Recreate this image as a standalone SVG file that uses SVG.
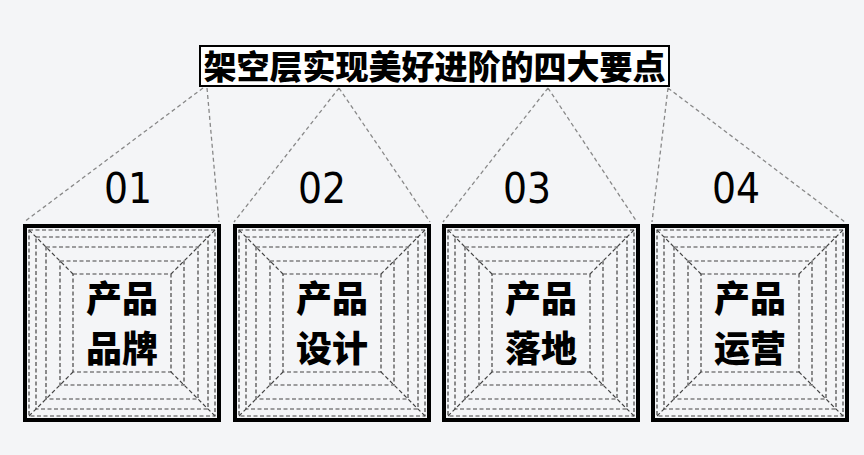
<svg xmlns="http://www.w3.org/2000/svg" width="864" height="455" viewBox="0 0 864 455">
<defs>
<style>
.d{fill:none;stroke:#444;stroke-width:1.2;stroke-dasharray:4 2.5}
.b{fill:none;stroke:#000;stroke-width:4}
.n{font-family:"DejaVu Sans Condensed","Liberation Sans",sans-serif;font-size:42px;fill:#000;text-anchor:middle}
.t{font-family:"Noto Sans CJK SC",sans-serif;font-weight:900;font-size:36px;fill:#000;text-anchor:middle}
.l{fill:none;stroke:#888;stroke-width:1.3;stroke-dasharray:4 3}
</style>
<g id="tile">
<rect class="b" x="0" y="0" width="194" height="194"/>
<rect class="d" x="4" y="4" width="186" height="186"/>
<rect class="d" x="11" y="11" width="172" height="172"/>
<rect class="d" x="21" y="21" width="152" height="152"/>
<rect class="d" x="35" y="35" width="124" height="124"/>
<rect class="d" x="48" y="48" width="98" height="98"/>
<path class="d" d="M4 4L48 48M190 4L146 48M4 190L48 146M190 190L146 146"/>
</g>
</defs>
<rect width="864" height="455" fill="#f4f5f7"/>
<g id="connectors">
<path class="l" d="M203 88L24 222M207 88L219 222M339 88L234 222M339 88L430 222M548 88L443 222M548 88L637 222M668 88L652 222M668 88L845 222"/>
</g>
<g id="title">
<rect x="200" y="46" width="469" height="40" fill="#fff" stroke="#000" stroke-width="2"/>
<text x="434.500" y="79" font-family="Noto Sans CJK SC,sans-serif" font-weight="900" font-size="33" text-anchor="middle">架空层实现美好进阶的四大要点</text>
</g>
<g id="n1"><use href="#tile" x="25" y="226"/><text class="n" x="128" y="203">01</text><text class="t" x="122" y="312">产品</text><text class="t" x="122" y="362">品牌</text></g>
<g id="n2"><use href="#tile" x="235" y="226"/><text class="n" x="322" y="203">02</text><text class="t" x="332" y="312">产品</text><text class="t" x="332" y="362">设计</text></g>
<g id="n3"><use href="#tile" x="444" y="226"/><text class="n" x="527" y="203">03</text><text class="t" x="541" y="312">产品</text><text class="t" x="541" y="362">落地</text></g>
<g id="n4"><use href="#tile" x="653" y="226"/><text class="n" x="736" y="203">04</text><text class="t" x="750" y="312">产品</text><text class="t" x="750" y="362">运营</text></g>
</svg>
